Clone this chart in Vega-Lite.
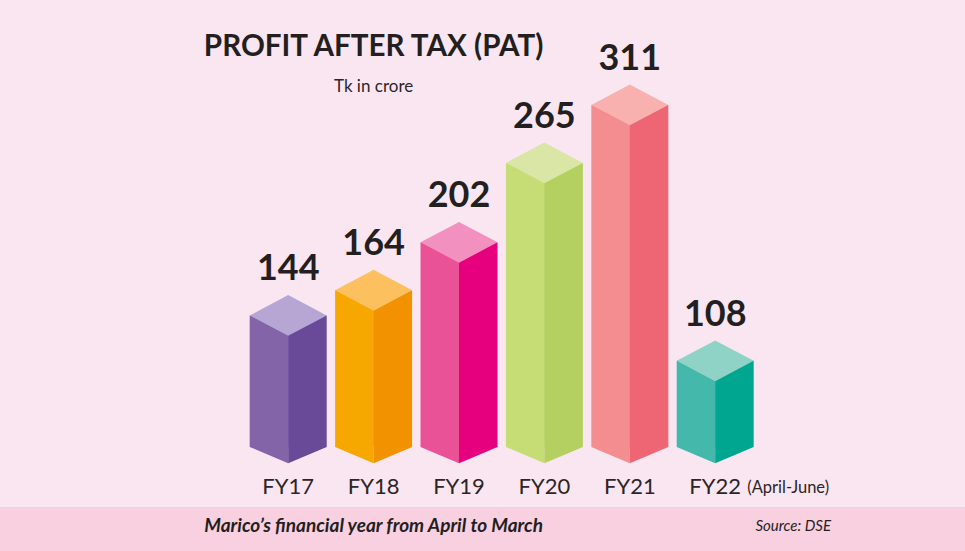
{"$schema":"https://vega.github.io/schema/vega-lite/v6.json","width":965,"height":551,"autosize":"none","padding":0,"background":"#fae6f1","config":{"view":{"stroke":null},"font":"Lato"},"datasets":{"bars":[{"fy":"FY17","pat":144},{"fy":"FY18","pat":164},{"fy":"FY19","pat":202},{"fy":"FY20","pat":265},{"fy":"FY21","pat":311},{"fy":"FY22","pat":108}]},"data":{"name":"bars"},"resolve":{"scale":{"color":"independent"}},"layer":[{"data":{"values":[{"band":"footer"}]},"mark":{"type":"rect","color":"#f9d0e0"},"encoding":{"y":{"datum":-7.9,"type":"quantitative","scale":{"domain":[-42.8,394.2],"nice":false,"zero":false},"axis":null},"y2":{"datum":-42.8}}},{"mark":{"type":"bar","width":39,"xOffset":-19},"encoding":{"x":{"field":"fy","type":"ordinal","sort":null,"scale":{"domain":["FY17","FY18","FY19","FY20","FY21","FY22"],"range":[245.5,757.9],"paddingInner":0,"paddingOuter":0},"axis":{"title":null,"labelAngle":0,"domain":false,"ticks":false,"grid":false,"labelPadding":-75,"labelFontSize":22,"labelColor":"#2b2526","labelFont":"Lato"}},"y":{"field":"pat","type":"quantitative","stack":null,"axis":null},"y2":{"datum":39.7},"color":{"field":"fy","type":"nominal","legend":null,"scale":{"domain":["FY17","FY18","FY19","FY20","FY21","FY22"],"range":["#8364a9","#f7a800","#ea5297","#c6dc75","#f48d8f","#45b8ac"]}}}},{"mark":{"type":"point","filled":true,"opacity":1,"shape":"M-1,0L0,0L0,0.42Z","size":5929},"encoding":{"x":{"field":"fy","type":"ordinal"},"y":{"datum":39.7,"type":"quantitative","axis":null},"color":{"field":"fy","type":"nominal","legend":null,"scale":{"domain":["FY17","FY18","FY19","FY20","FY21","FY22"],"range":["#8364a9","#f7a800","#ea5297","#c6dc75","#f48d8f","#45b8ac"]}}}},{"mark":{"type":"bar","width":38.5,"xOffset":19.25},"encoding":{"x":{"field":"fy","type":"ordinal"},"y":{"field":"pat","type":"quantitative","stack":null,"axis":null},"y2":{"datum":39.7},"color":{"field":"fy","type":"nominal","legend":null,"scale":{"domain":["FY17","FY18","FY19","FY20","FY21","FY22"],"range":["#684a99","#f39200","#e6007e","#b3d061","#ee6674","#00a690"]}}}},{"mark":{"type":"point","filled":true,"opacity":1,"shape":"M0,0L1,0L0,0.42Z","size":5929},"encoding":{"x":{"field":"fy","type":"ordinal"},"y":{"datum":39.7,"type":"quantitative","axis":null},"color":{"field":"fy","type":"nominal","legend":null,"scale":{"domain":["FY17","FY18","FY19","FY20","FY21","FY22"],"range":["#684a99","#f39200","#e6007e","#b3d061","#ee6674","#00a690"]}}}},{"mark":{"type":"point","filled":true,"opacity":1,"shape":"M-1,0L0,-0.53L1,0L0,0.53Z","size":5929},"encoding":{"x":{"field":"fy","type":"ordinal"},"y":{"field":"pat","type":"quantitative","axis":null},"color":{"field":"fy","type":"nominal","legend":null,"scale":{"domain":["FY17","FY18","FY19","FY20","FY21","FY22"],"range":["#b7a6d4","#fcc05f","#f291bf","#d9e6a5","#f9b1b0","#8fd3c7"]}}}},{"mark":{"type":"text","fontSize":36,"fontWeight":"bold","color":"#231f20","baseline":"middle","dy":-46},"encoding":{"x":{"field":"fy","type":"ordinal"},"y":{"field":"pat","type":"quantitative","axis":null},"text":{"field":"pat","type":"quantitative"}}},{"data":{"values":[{"fy":"FY18","v":356.9,"t":"PROFIT AFTER TAX (PAT)"}]},"mark":{"type":"text","fontSize":29.6,"fontWeight":"bold","color":"#231f20","baseline":"middle"},"encoding":{"x":{"field":"fy","type":"ordinal"},"y":{"field":"v","type":"quantitative","axis":null},"text":{"field":"t"}}},{"data":{"values":[{"fy":"FY18","v":325.2,"t":"Tk in crore"}]},"mark":{"type":"text","fontSize":17,"color":"#2b2526","baseline":"middle"},"encoding":{"x":{"field":"fy","type":"ordinal"},"y":{"field":"v","type":"quantitative","axis":null},"text":{"field":"t"}}},{"data":{"values":[{"fy":"FY22","v":7.2,"t":"(April-June)"}]},"mark":{"type":"text","fontSize":16.5,"color":"#2b2526","baseline":"middle","dx":73},"encoding":{"x":{"field":"fy","type":"ordinal"},"y":{"field":"v","type":"quantitative","axis":null},"text":{"field":"t"}}},{"data":{"values":[{"fy":"FY18","v":-22.9,"t":"Marico’s financial year from April to March"}]},"mark":{"type":"text","fontSize":19,"fontStyle":"italic","fontWeight":"bold","color":"#231f20","baseline":"middle"},"encoding":{"x":{"field":"fy","type":"ordinal"},"y":{"field":"v","type":"quantitative","axis":null},"text":{"field":"t"}}},{"data":{"values":[{"fy":"FY22","v":-22.9,"t":"Source: DSE"}]},"mark":{"type":"text","fontSize":15,"fontStyle":"italic","color":"#231f20","baseline":"middle","dx":78},"encoding":{"x":{"field":"fy","type":"ordinal"},"y":{"field":"v","type":"quantitative","axis":null},"text":{"field":"t"}}}]}
